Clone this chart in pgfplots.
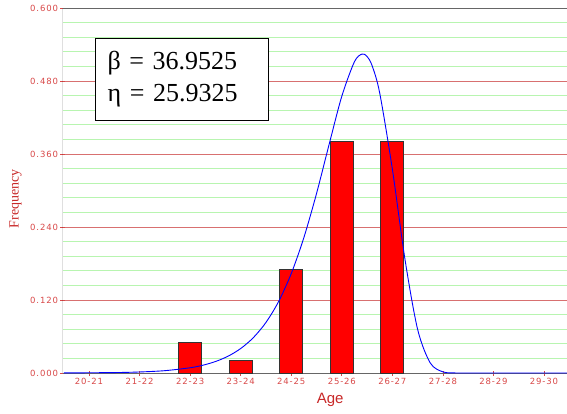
\documentclass[border=0pt]{standalone}
\usepackage{fontspec}
\setmainfont{Liberation Serif}
\newfontfamily\tickfont[LetterSpace=10]{DejaVu Sans}
\newfontfamily\agefont{Liberation Sans}
\usepackage{pgfplots}
\pgfplotsset{compat=1.18}
\definecolor{tickred}{HTML}{D84848}
\definecolor{gridred}{HTML}{D87070}
\definecolor{gridgreen}{HTML}{B8F5B0}
\definecolor{labred}{HTML}{C82828}
\begin{document}
\begin{tikzpicture}
\path[use as bounding box] (-63pt,-40pt) rectangle (504pt,373pt);
\begin{axis}[
  scale only axis, width=504pt, height=365pt,
  xmin=-0.515, xmax=9.455, ymin=0, ymax=0.6,
  axis line style={draw=none},
  xtick={0,1,2,3,4,5,6,7,8,9},
  xticklabels={20-21,21-22,22-23,23-24,24-25,25-26,26-27,27-28,28-29,29-30},
  ytick={0,0.12,0.24,0.36,0.48,0.6},
  minor y tick num=4,
  xtick pos=bottom, ytick pos=left,
  tick align=center,
  major tick length=5pt, minor tick length=0pt,
  tick style={tickred, line width=0.8pt},
  ymajorgrids, yminorgrids,
  major grid style={gridred, line width=1pt},
  minor grid style={gridgreen, line width=1pt},
  ticklabel style={font=\tickfont\fontsize{8.5}{10}\selectfont, text=tickred},
  /pgf/number format/assume math mode=true,
  yticklabel style={/pgf/number format/.cd, fixed, fixed zerofill, precision=3},
  yticklabel shift=-1pt,
  xticklabel shift=-1pt,
  xlabel={\agefont\fontsize{15}{18}\selectfont Age},
  xlabel style={at={(axis description cs:0.53,-0.074)}, anchor=center, text=labred},
  ylabel={\fontsize{14}{16}\selectfont Frequency},
  ylabel style={at={(axis description cs:-0.094,0.477)}, anchor=center, text=labred},
]
\draw[black!60, line width=0.8pt] (axis description cs:0,0) -- (axis description cs:1,0);
\addplot[ybar, bar width=0.46, fill=red, draw=black!80, line width=1pt]
  coordinates {(2,0.050)(3,0.020)(4,0.170)(5,0.380)(6,0.380)};
\addplot[blue, line width=0.9pt, smooth, tension=0.5] coordinates {
(-0.5,0.000125)(0.5,0.00072)(1.0,0.00169)(1.5,0.00385)(2.0,0.00860)(2.25,0.01276)
(2.5,0.01883)(2.75,0.02762)(3.0,0.04022)(3.25,0.05811)(3.5,0.08313)(3.75,0.11749)(4.0,0.16343)
(4.25,0.22266)(4.5,0.29497)(4.75,0.37605)(5.0,0.45489)(5.25,0.51169)
(5.4,0.52431)(5.5,0.52039)(5.6,0.50511)(5.75,0.46022)(6.0,0.33523)
(6.25,0.18669)(6.5,0.07169)(6.75,0.01648)(7.0,0.00187)(7.25,0.00008)
(7.5,0)(8.5,0)(9.455,0)};
\draw[black, line width=1pt] (axis description cs:0,0) -- (axis description cs:0,1);
\draw[black!60, line width=1.5pt] (axis description cs:0,1) -- (axis description cs:1,1);
\node[draw=black, line width=1pt, fill=white, anchor=north west, inner xsep=12pt, inner ysep=4pt,
  align=left, text width=149pt, minimum height=82pt, font=\fontsize{26}{32}\selectfont]
  at (axis description cs:0.0635,0.918) {β = 36.9525\\η = 25.9325};
\end{axis}
\end{tikzpicture}
\end{document}
